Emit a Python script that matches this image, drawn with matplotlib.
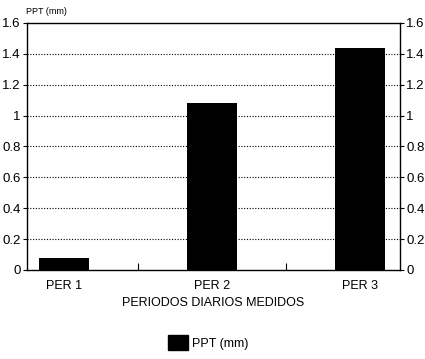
import matplotlib
matplotlib.use("Agg")
import matplotlib.pyplot as plt
from matplotlib.patches import Patch

categories = ["PER 1", "PER 2", "PER 3"]
values = [0.08, 1.08, 1.44]
yticks = [0, 0.2, 0.4, 0.6, 0.8, 1, 1.2, 1.4, 1.6]
ytick_labels = ["0", "0.2", "0.4", "0.6", "0.8", "1", "1.2", "1.4", "1.6"]

plt.rcParams['font.family'] = ['Liberation Sans', 'DejaVu Sans']

fig = plt.figure(figsize=(4.25, 3.59), dpi=100)
ax = fig.add_axes([0.0635, 0.248, 0.8775, 0.688])
x = list(range(len(categories)))
ax.bar(x, values, width=0.34, color="black", zorder=3)
ax.set_xlim(-0.25, 2.27)
ax.set_ylim(0, 1.6)
ax.set_yticks(yticks)
ax.set_yticklabels(ytick_labels)
ax.set_xticks(x)
ax.set_xticklabels(categories, fontsize=9)
ax.tick_params(axis='x', which='major', length=0, pad=7)
ax.set_xticks([0.5, 1.5], minor=True)
ax.tick_params(axis='x', which='minor', direction='in', length=5, width=0.8)
ax.tick_params(axis='y', which='major', length=3, width=0.8, pad=1.5, direction='out',
               left=True, right=True, labelleft=True, labelright=True, labelsize=9.5)
for sp in ax.spines.values():
    sp.set_linewidth(1.0)
for yv in yticks[1:-1]:
    ax.axhline(yv, color="black", linestyle=(0, (1, 1.5)), linewidth=0.8, zorder=1)
ax.set_xlabel("PERIODOS DIARIOS MEDIDOS", fontsize=9, labelpad=4)
fig.text(0.062, 0.955, "PPT (mm)", fontsize=6.5, ha="left", va="bottom")
leg = fig.legend(handles=[Patch(facecolor="black", edgecolor="black", label="PPT (mm)")],
                 loc="center", bbox_to_anchor=(0.49, 0.045), frameon=False, fontsize=9,
                 handlelength=1.6, handleheight=1.5, handletextpad=0.3)
fig.savefig("out.png", dpi=100)
